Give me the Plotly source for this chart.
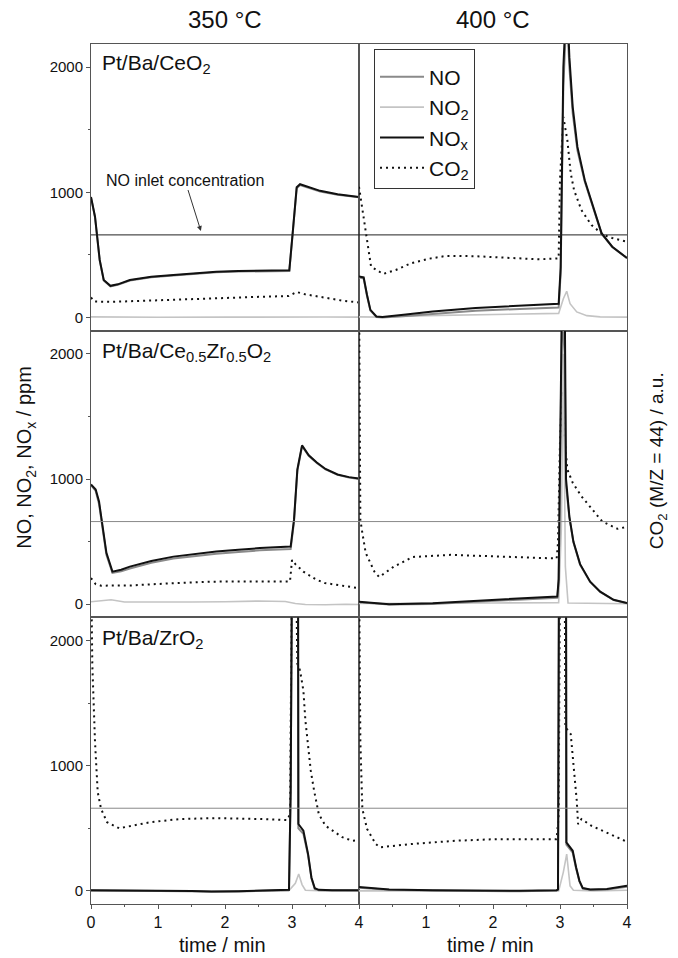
import plotly.graph_objects as go
from plotly.subplots import make_subplots

# ---------------- data ----------------
TEMPS = ["350 °C", "400 °C"]
CATALYSTS = ["Pt/Ba/CeO<sub>2</sub>", "Pt/Ba/Ce<sub>0.5</sub>Zr<sub>0.5</sub>O<sub>2</sub>", "Pt/Ba/ZrO<sub>2</sub>"]
INLET_NO = 660
X_TICKS = [0, 1, 2, 3, 4]
X_TICKTEXT_LEFT = ["0", "1", "2", "3", "4"]
X_TICKTEXT_RIGHT = ["", "1", "2", "3", "4"]
Y_TICKS = [0, 1000, 2000]

# Panel A: CeO2, 350 C
A_t_nox = [0, 0.06, 0.13, 0.19, 0.29, 0.4, 0.58, 0.9, 1.23, 1.55, 1.87, 2.2, 2.52, 2.96, 3.01, 3.07, 3.12, 3.25, 3.42, 3.68, 4.0]
A_nox = [963, 805, 460, 300, 253, 265, 300, 325, 340, 355, 366, 372, 375, 377, 675, 1040, 1065, 1040, 1012, 985, 963]
A_no = [958, 800, 455, 296, 249, 261, 296, 321, 336, 350, 361, 367, 370, 372, 668, 1032, 1058, 1034, 1007, 981, 960]
A_t_no2 = [0, 0.3, 1.0, 2.0, 2.98, 3.1, 3.5, 4.0]
A_no2 = [5, 3, 2, 3, 5, 8, 4, 3]
A_t_co2 = [0, 0.05, 0.3, 0.8, 1.4, 2.0, 2.5, 2.95, 3.07, 3.2, 3.48, 3.75, 4.0]
A_co2 = [160, 128, 125, 135, 148, 158, 165, 172, 204, 185, 157, 135, 120]

# Panel B: CeO2, 400 C
B_t_nox = [0, 0.07, 0.12, 0.17, 0.26, 0.35, 0.7, 1.1, 1.74, 2.4, 2.98, 3.01, 3.05, 3.1, 3.14, 3.19, 3.26, 3.37, 3.52, 3.62, 3.78, 4.0]
B_nox = [327, 320, 180, 61, 8, 5, 25, 48, 77, 93, 110, 400, 2000, 2600, 2080, 1681, 1363, 1097, 834, 674, 566, 475]
B_no = [320, 312, 172, 55, 3, 0, 12, 30, 55, 68, 80, 350, 1850, 2450, 2000, 1630, 1335, 1085, 828, 670, 563, 473]
B_t_no2 = [0, 0.3, 1.0, 2.0, 2.98, 3.05, 3.1, 3.15, 3.25, 3.4, 3.6, 4.0]
B_no2 = [5, 3, 15, 25, 33, 150, 210, 110, 45, 15, 5, 3]
B_t_co2 = [0, 0.04, 0.1, 0.18, 0.36, 0.55, 0.78, 1.05, 1.3, 1.74, 2.1, 2.4, 2.7, 2.98, 3.0, 3.05, 3.11, 3.16, 3.21, 3.32, 3.47, 3.65, 3.78, 4.0]
B_co2 = [1044, 900, 673, 406, 348, 380, 434, 470, 492, 490, 480, 473, 465, 473, 1100, 1602, 1416, 1152, 1017, 858, 738, 659, 635, 606]

# Panel C: Ce0.5Zr0.5O2, 350 C
C_t_nox = [0, 0.07, 0.12, 0.16, 0.23, 0.32, 0.45, 0.58, 0.9, 1.23, 1.55, 1.87, 2.2, 2.52, 2.98, 3.03, 3.08, 3.15, 3.25, 3.37, 3.5, 3.68, 3.85, 4.0]
C_nox = [956, 916, 820, 675, 410, 260, 275, 300, 345, 380, 402, 420, 435, 448, 460, 675, 1076, 1269, 1190, 1132, 1080, 1036, 1015, 1004]
C_no = [950, 905, 800, 655, 395, 250, 262, 285, 330, 365, 385, 402, 417, 430, 440, 660, 1065, 1262, 1185, 1128, 1076, 1033, 1012, 1001]
C_t_no2 = [0, 0.15, 0.3, 0.5, 1.0, 1.5, 2.0, 2.5, 2.9, 3.05, 3.2, 3.5, 3.8, 4.0]
C_no2 = [20, 25, 35, 18, 15, 18, 20, 25, 22, 5, -3, -5, 0, -3]
C_t_co2 = [0, 0.07, 0.15, 0.6, 1.2, 1.8, 2.5, 2.97, 3.0, 3.05, 3.17, 3.35, 3.49, 3.75, 4.0]
C_co2 = [209, 160, 148, 150, 167, 180, 182, 182, 353, 320, 260, 200, 169, 145, 128]

# Panel D: Ce0.5Zr0.5O2, 400 C
D_t_nox = [0, 0.2, 0.45, 1.1, 1.74, 2.4, 2.96, 2.98, 3.03, 3.07, 3.09, 3.14, 3.2, 3.3, 3.45, 3.6, 3.8, 4.0]
D_nox = [19, 10, 0, 8, 27, 48, 62, 200, 2500, 2500, 1000, 700, 500, 320, 180, 100, 35, 10]
D_no = [15, 6, -3, 2, 18, 38, 52, 180, 2300, 2000, 950, 690, 495, 315, 178, 98, 33, 8]
D_t_no2 = [0, 1.0, 2.0, 2.98, 3.02, 3.05, 3.08, 3.12, 3.5, 4.0]
D_no2 = [5, 5, 10, 12, 600, 2000, 300, 10, 5, 3]
D_t_co2 = [0, 0.02, 0.05, 0.1, 0.23, 0.3, 0.52, 0.8, 1.37, 2.03, 2.95, 2.97, 3.0, 3.03, 3.06, 3.11, 3.19, 3.32, 3.52, 3.63, 3.76, 3.86, 4.0]
D_co2 = [2600, 675, 569, 410, 260, 217, 300, 377, 394, 381, 365, 490, 1300, 1700, 1398, 1076, 970, 862, 731, 661, 627, 602, 618]

# Panel E: ZrO2, 350 C
E_t_nox = [0, 0.5, 1.0, 1.5, 1.8, 2.2, 2.6, 2.955, 2.98, 3.0, 3.09, 3.095, 3.17, 3.24, 3.29, 3.34, 3.4, 3.6, 4.0]
E_nox = [5, 5, 0, -2, -5, -3, 2, 8, 800, 2600, 2600, 534, 480, 294, 107, 21, 8, 5, 5]
E_no = [3, 3, -2, -4, -7, -5, 0, 6, 780, 2550, 2500, 500, 455, 285, 100, 15, 4, 2, 2]
E_t_no2 = [0, 1.0, 2.0, 2.95, 3.05, 3.1, 3.15, 3.2, 3.5, 4.0]
E_no2 = [0, -3, -5, 0, 60, 134, 50, 5, 0, 0]
E_t_co2 = [0, 0.02, 0.06, 0.1, 0.15, 0.24, 0.42, 0.88, 1.33, 1.87, 2.52, 2.93, 2.97, 3.0, 3.06, 3.08, 3.12, 3.17, 3.2, 3.24, 3.28, 3.33, 3.4, 3.5, 3.63, 3.75, 3.9, 4.0]
E_co2 = [2600, 1800, 1188, 790, 655, 548, 500, 548, 574, 581, 574, 566, 613, 2600, 2600, 1813, 1760, 1600, 1360, 1149, 960, 800, 613, 520, 469, 429, 400, 405]

# Panel F: ZrO2, 400 C
F_t_nox = [0, 0.45, 1.1, 1.74, 2.4, 2.95, 2.97, 2.985, 3.09, 3.095, 3.19, 3.24, 3.29, 3.34, 3.45, 3.7, 4.0]
F_nox = [30, 11, 5, 0, 0, 5, 11, 2600, 2600, 387, 320, 189, 80, 22, 11, 15, 40]
F_no = [25, 8, 2, -3, -3, 2, 8, 2550, 2500, 370, 305, 180, 75, 18, 8, 11, 33]
F_t_no2 = [0, 1.0, 2.0, 2.98, 3.05, 3.1, 3.15, 3.2, 3.5, 4.0]
F_no2 = [0, 0, -3, 0, 150, 294, 40, 5, 0, 5]
F_t_co2 = [0, 0.02, 0.05, 0.12, 0.25, 0.31, 0.78, 1.43, 2.03, 2.95, 2.98, 3.0, 3.07, 3.08, 3.16, 3.21, 3.25, 3.27, 3.32, 3.47, 3.68, 3.89, 4.0]
F_co2 = [2600, 1200, 655, 495, 374, 348, 374, 400, 413, 413, 600, 2600, 2600, 1309, 1253, 989, 720, 533, 573, 520, 469, 421, 392]

PANELS = [
    (1, 1, A_t_nox, A_nox, A_no, A_t_no2, A_no2, A_t_co2, A_co2),
    (1, 2, B_t_nox, B_nox, B_no, B_t_no2, B_no2, B_t_co2, B_co2),
    (2, 1, C_t_nox, C_nox, C_no, C_t_no2, C_no2, C_t_co2, C_co2),
    (2, 2, D_t_nox, D_nox, D_no, D_t_no2, D_no2, D_t_co2, D_co2),
    (3, 1, E_t_nox, E_nox, E_no, E_t_no2, E_no2, E_t_co2, E_co2),
    (3, 2, F_t_nox, F_nox, F_no, F_t_no2, F_no2, F_t_co2, F_co2),
]

# ---------------- styling ----------------
FONT = "Arial, Liberation Sans, sans-serif"
C_NO = "#8a8a8a"
C_NO2 = "#c4c4c4"
C_NOX = "#111111"
C_CO2 = "#111111"
FRAME = "#555555"
Y_RANGE = [-105, 2185]

fig = make_subplots(rows=3, cols=2, horizontal_spacing=0, vertical_spacing=0)

for (r, c, t_nox, nox, no, t_no2, no2, t_co2, co2) in PANELS:
    first = (r == 1 and c == 1)
    fig.add_trace(go.Scatter(x=t_co2, y=co2, mode="lines", name="CO<sub>2</sub>",
                             line=dict(color=C_CO2, width=2, dash="2px,4px"),
                             showlegend=first, legendrank=4), row=r, col=c)
    fig.add_trace(go.Scatter(x=t_no2, y=no2, mode="lines", name="NO<sub>2</sub>",
                             line=dict(color=C_NO2, width=1.6),
                             showlegend=first, legendrank=2), row=r, col=c)
    fig.add_trace(go.Scatter(x=t_nox, y=no, mode="lines", name="NO",
                             line=dict(color=C_NO, width=2),
                             showlegend=first, legendrank=1), row=r, col=c)
    fig.add_trace(go.Scatter(x=t_nox, y=nox, mode="lines", name="NO<sub>x</sub>",
                             line=dict(color=C_NOX, width=2),
                             showlegend=first, legendrank=3), row=r, col=c)
    inlet_col = "#222222" if r == 1 else "#888888"
    fig.add_hline(y=INLET_NO, row=r, col=c, line=dict(color=inlet_col, width=1))

for r in (1, 2, 3):
    for c in (1, 2):
        bottom = (r == 3)
        fig.update_xaxes(
            row=r, col=c, range=[0, 4], showgrid=False, zeroline=False,
            showline=True, mirror=True, linecolor=FRAME, linewidth=1,
            tickvals=X_TICKS,
            ticktext=(X_TICKTEXT_LEFT if c == 1 else X_TICKTEXT_RIGHT),
            showticklabels=bottom, ticks=("outside" if bottom else ""),
            ticklen=4, tickcolor=FRAME,
            minor=(dict(ticks="outside", dtick=0.5, ticklen=2, tickcolor=FRAME) if bottom else dict(ticks="")),
            tickfont=dict(family=FONT, size=16, color="#111"),
        )
        fig.update_yaxes(
            row=r, col=c, range=Y_RANGE, showgrid=False, zeroline=False,
            showline=True, mirror=True, linecolor=FRAME, linewidth=1,
            tickvals=Y_TICKS, showticklabels=(c == 1),
            ticks=("outside" if c == 1 else ""), ticklen=4, tickcolor=FRAME,
            minor=(dict(ticks="outside", dtick=500, ticklen=2, tickcolor=FRAME) if c == 1 else dict(ticks="")),
            tickfont=dict(family=FONT, size=15, color="#111"),
        )

annotations = []
# column titles
for i, txt in enumerate(TEMPS):
    annotations.append(dict(text=txt, x=0.25 + 0.5 * i, y=1.028, xref="paper", yref="paper",
                            showarrow=False, font=dict(family=FONT, size=24, color="#111"),
                            xanchor="center", yanchor="middle"))
# x axis titles
for i in range(2):
    annotations.append(dict(text="time / min", x=0.25 + 0.5 * i - 0.004, y=-0.048, xref="paper", yref="paper",
                            showarrow=False, font=dict(family=FONT, size=20, color="#111"),
                            xanchor="center", yanchor="middle"))
# catalyst labels
for txt, yy in zip(CATALYSTS, [0.977, 0.642, 0.308]):
    annotations.append(dict(text=txt, x=0.017, y=yy, xref="paper", yref="paper",
                            showarrow=False, font=dict(family=FONT, size=21, color="#111"),
                            xanchor="left", yanchor="middle"))
# y titles
annotations.append(dict(text="NO, NO<sub>2</sub>, NO<sub>x</sub> / ppm", x=-0.121, y=0.519,
                        xref="paper", yref="paper", textangle=-90, showarrow=False,
                        font=dict(family=FONT, size=20, color="#111"),
                        xanchor="center", yanchor="middle"))
annotations.append(dict(text="CO<sub>2</sub> (M/Z = 44) / a.u.", x=1.058, y=0.515,
                        xref="paper", yref="paper", textangle=-90, showarrow=False,
                        font=dict(family=FONT, size=19, color="#111"),
                        xanchor="center", yanchor="middle"))
# inlet concentration note
annotations.append(dict(text="NO inlet concentration", x=1.64, y=691, xref="x", yref="y",
                        ax=-16, ay=-51, showarrow=True, arrowhead=2, arrowsize=1,
                        arrowwidth=1, arrowcolor="#333",
                        font=dict(family=FONT, size=16, color="#111")))

fig.update_layout(
    width=678, height=958,
    margin=dict(l=91, r=51, t=44, b=54),
    paper_bgcolor="white", plot_bgcolor="white",
    annotations=annotations,
    font=dict(family=FONT, color="#111"),
    legend=dict(x=0.528, y=0.994, xanchor="left", yanchor="top",
                bgcolor="white", bordercolor="#333", borderwidth=1,
                font=dict(family=FONT, size=21, color="#111"),
                title=dict(text=" ", font=dict(size=5)),
                itemwidth=44, traceorder="normal"),
)

fig.write_html("out.html", config={"displayModeBar": False},
               post_script="document.body.style.margin='0';document.body.style.overflow='hidden';")
